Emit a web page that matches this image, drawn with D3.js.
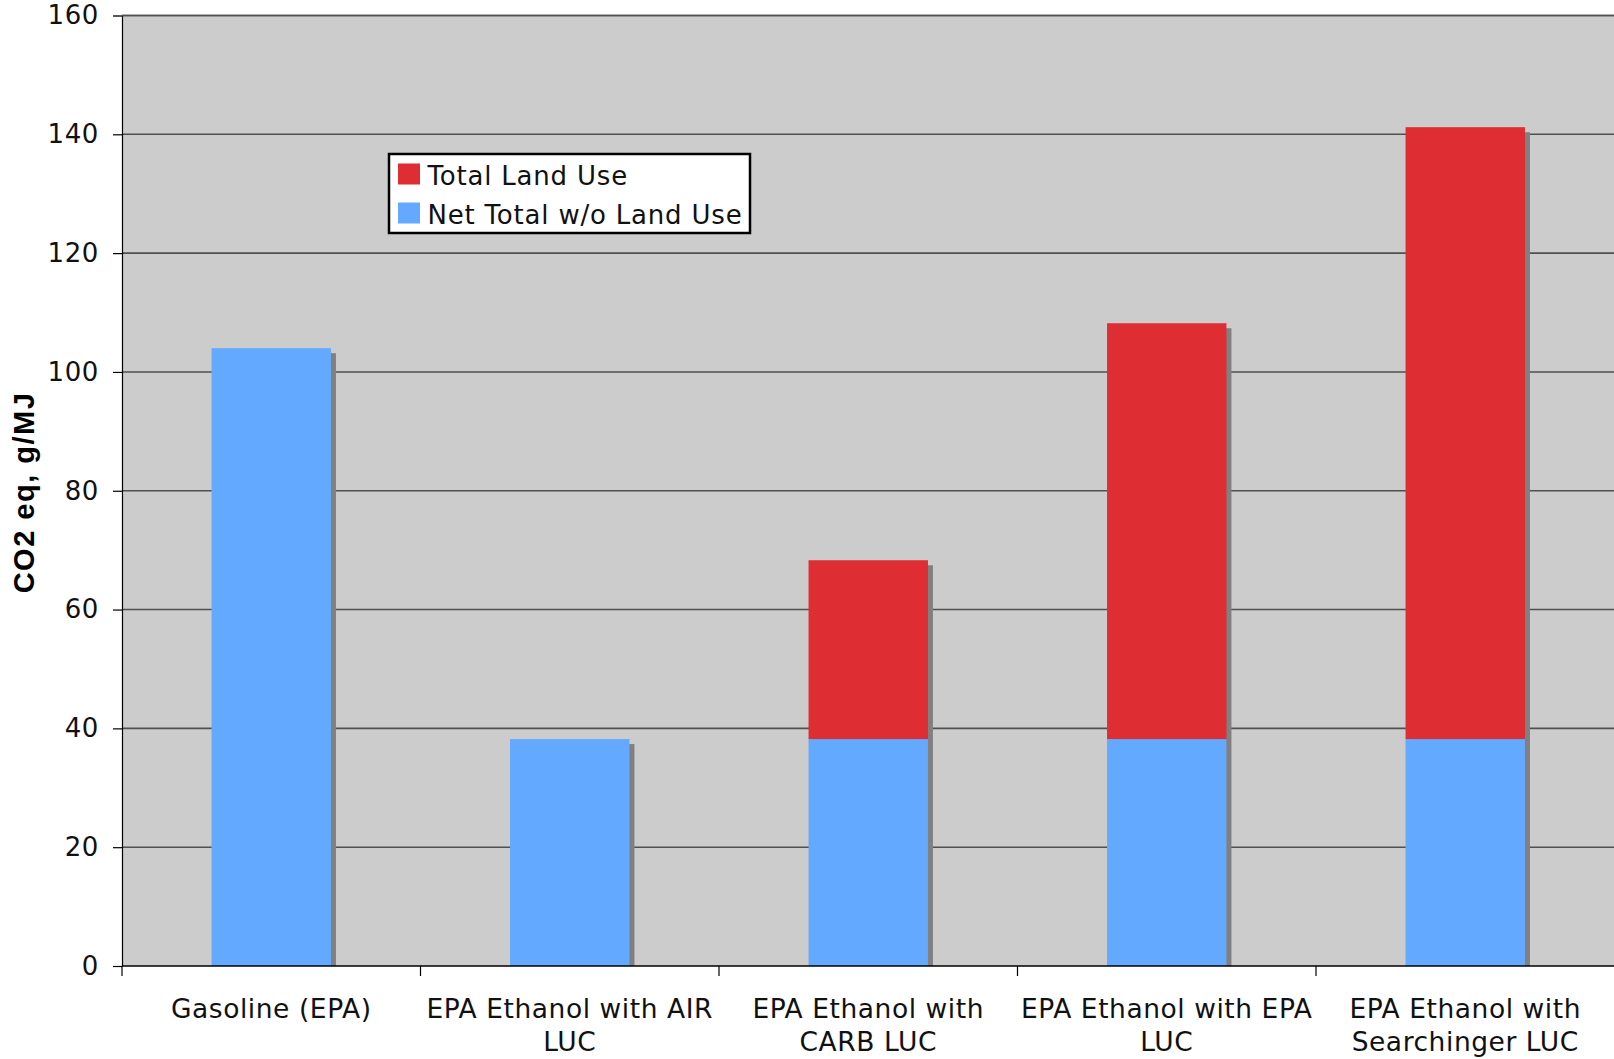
<!DOCTYPE html>
<html>
<head>
<meta charset="utf-8">
<script src="https://cdn.jsdelivr.net/npm/d3@7"></script>
<style>
  html, body { margin: 0; padding: 0; background: #ffffff; }
  svg { display: block; }
</style>
</head>
<body>
<svg id="chart" width="1614" height="1059"></svg>
<script>
// Lifecycle CO2-equivalent emissions, g/MJ
const categories = [
  "Gasoline (EPA)",
  "EPA Ethanol with AIR LUC",
  "EPA Ethanol with CARB LUC",
  "EPA Ethanol with EPA LUC",
  "EPA Ethanol with Searchinger LUC"
];
// Category labels as wrapped lines
const categoryLines = [
  ["Gasoline (EPA)"],
  ["EPA Ethanol with AIR", "LUC"],
  ["EPA Ethanol with", "CARB LUC"],
  ["EPA Ethanol with EPA", "LUC"],
  ["EPA Ethanol with", "Searchinger LUC"]
];
const netWithoutLandUse = [104, 38.2, 38.2, 38.2, 38.2];
const totalLandUse = [0, 0, 30.1, 70, 103];
const seriesNames = ["Total Land Use", "Net Total w/o Land Use"];
const yTicks = [0, 20, 40, 60, 80, 100, 120, 140, 160];

const colors = {
  "Net Total w/o Land Use": "#63a9ff",
  "Total Land Use": "#de2d33"
};

const svg = d3.select("#chart");
const plot = { left: 122, right: 1614.5, top: 15.5, bottom: 966 };

const x = d3.scaleBand().domain(categories).range([plot.left, plot.right]).padding(0);
const y = d3.scaleLinear().domain([0, 160]).range([plot.bottom, plot.top]);

// Plot background
svg.append("rect")
  .attr("x", plot.left).attr("y", plot.top)
  .attr("width", plot.right - plot.left).attr("height", plot.bottom - plot.top)
  .attr("fill", "#cccccc");

// Horizontal gridlines
svg.append("g")
  .selectAll("line")
  .data(yTicks.filter(d => d > 0))
  .join("line")
  .attr("x1", plot.left).attr("x2", plot.right)
  .attr("y1", d => y(d)).attr("y2", d => y(d))
  .attr("stroke", "#505050")
  .attr("stroke-width", 1.6);

// Stacked data
const rows = categories.map((c, i) => ({
  category: c,
  "Net Total w/o Land Use": netWithoutLandUse[i],
  "Total Land Use": totalLandUse[i]
}));
const stack = d3.stack().keys(["Net Total w/o Land Use", "Total Land Use"]);
const stacked = stack(rows);

const barOffset = x.bandwidth() * 0.3;
const barWidth = x.bandwidth() * 0.4;
const shadow = 5;

// Drop shadows behind each full stack
svg.append("g")
  .selectAll("rect")
  .data(rows)
  .join("rect")
  .attr("x", d => x(d.category) + barOffset + shadow)
  .attr("y", d => y(d["Net Total w/o Land Use"] + d["Total Land Use"]) + shadow)
  .attr("width", barWidth)
  .attr("height", d => plot.bottom - (y(d["Net Total w/o Land Use"] + d["Total Land Use"]) + shadow))
  .attr("fill", "#808080");

// Bars
svg.append("g")
  .selectAll("g")
  .data(stacked)
  .join("g")
  .attr("fill", s => colors[s.key])
  .selectAll("rect")
  .data(s => s.filter(d => d[1] - d[0] > 0))
  .join("rect")
  .attr("x", d => x(d.data.category) + barOffset)
  .attr("y", d => y(d[1]))
  .attr("width", barWidth)
  .attr("height", d => y(d[0]) - y(d[1]));

// Y axis
const yAxis = d3.axisLeft(y).tickValues(yTicks).tickSize(9).tickPadding(14).tickFormat(d3.format("d"));
const gy = svg.append("g").attr("transform", `translate(${plot.left},0)`).call(yAxis);
gy.select(".domain").attr("stroke", "#000").attr("stroke-width", 1.2);
gy.selectAll(".tick line").attr("stroke", "#000").attr("stroke-width", 1.2);
gy.selectAll(".tick text")
  .attr("fill", "#111")
  .style("font-family", "'DejaVu Sans', Verdana, sans-serif")
  .style("font-size", "26px")
  .style("letter-spacing", "0.6px");
// Top edge drawn as gridline colour
gy.selectAll(".tick").filter(d => d === 160).select("line").attr("stroke", "#505050").attr("stroke-width", 1.6);
svg.append("line")
  .attr("x1", plot.left).attr("x2", plot.right)
  .attr("y1", y(160)).attr("y2", y(160))
  .attr("stroke", "#505050").attr("stroke-width", 1.6);

// X axis with ticks at category boundaries
const xAxisG = svg.append("g").attr("transform", `translate(0,${plot.bottom})`);
xAxisG.append("line")
  .attr("x1", plot.left).attr("x2", plot.right)
  .attr("stroke", "#000").attr("stroke-width", 1.4);
xAxisG.selectAll("line.tick")
  .data(categories)
  .join("line")
  .attr("class", "tick")
  .attr("x1", d => x(d)).attr("x2", d => x(d))
  .attr("y1", 0).attr("y2", 10)
  .attr("stroke", "#000").attr("stroke-width", 1.2);

xAxisG.selectAll("text.cat")
  .data(categories)
  .join("text")
  .attr("class", "cat")
  .attr("text-anchor", "middle")
  .attr("fill", "#111")
  .style("font-family", "'DejaVu Sans', Verdana, sans-serif")
  .style("font-size", "26.5px")
  .style("letter-spacing", "0.55px")
  .each(function(d, i) {
    const t = d3.select(this);
    categoryLines[i].forEach((line, j) => {
      t.append("tspan")
        .attr("x", x(d) + x.bandwidth() / 2)
        .attr("y", 51.5 + j * 33.5)
        .text(line);
    });
  });

// Y axis title
svg.append("text")
  .attr("transform", `translate(24,492.5) rotate(-90)`)
  .attr("text-anchor", "middle")
  .attr("dominant-baseline", "central")
  .attr("fill", "#000")
  .style("font-family", "'Liberation Sans', Arial, sans-serif")
  .style("font-weight", "bold")
  .style("font-size", "29px")
  .style("letter-spacing", "1.5px")
  .text("CO2 eq, g/MJ");

// Legend
const legend = svg.append("g").attr("transform", "translate(389,154)");
legend.append("rect")
  .attr("x", 0).attr("y", 0)
  .attr("width", 361).attr("height", 79)
  .attr("fill", "#ffffff")
  .attr("stroke", "#000")
  .attr("stroke-width", 2.5);
legend.selectAll("g.item")
  .data(seriesNames)
  .join("g")
  .attr("class", "item")
  .attr("transform", (d, i) => `translate(0,${i * 39})`)
  .each(function(d) {
    const g = d3.select(this);
    g.append("rect")
      .attr("x", 9).attr("y", 9.5)
      .attr("width", 22).attr("height", 21)
      .attr("fill", colors[d]);
    g.append("text")
      .attr("x", 38.5).attr("y", 30.8)
      .attr("fill", "#111")
      .style("font-family", "'DejaVu Sans', Verdana, sans-serif")
      .style("font-size", "26px")
      .style("letter-spacing", "0.8px")
      .text(d);
  });
</script>
</body>
</html>
